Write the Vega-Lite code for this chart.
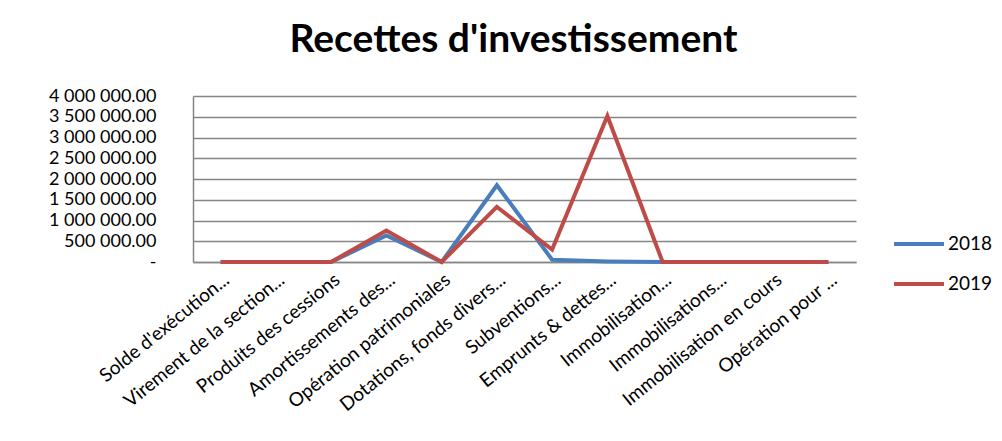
{
  "$schema": "https://vega.github.io/schema/vega-lite/v6.json",
  "width": 663,
  "height": 166,
  "autosize": "none",
  "padding": {"left": 193, "top": 96, "right": 146, "bottom": 179},
  "background": "white",
  "title": {
    "text": "Recettes d'investissement",
    "font": "Lato",
    "fontSize": 39,
    "fontWeight": "bold",
    "color": "#000000",
    "anchor": "middle",
    "offset": 27,
    "dx": -11
  },
  "data": {
    "values": [
      {"cat": "Solde d'exécution...", "year": "2018", "value": 0},
      {"cat": "Virement de la section...", "year": "2018", "value": 0},
      {"cat": "Produits des cessions", "year": "2018", "value": 0},
      {"cat": "Amortissements des...", "year": "2018", "value": 640000},
      {"cat": "Opération patrimoniales", "year": "2018", "value": 0},
      {"cat": "Dotations, fonds divers...", "year": "2018", "value": 1850000},
      {"cat": "Subventions...", "year": "2018", "value": 55000},
      {"cat": "Emprunts & dettes...", "year": "2018", "value": 15000},
      {"cat": "Immobilisation...", "year": "2018", "value": 0},
      {"cat": "Immobilisations...", "year": "2018", "value": 0},
      {"cat": "Immobilisation en cours", "year": "2018", "value": 0},
      {"cat": "Opération pour ...", "year": "2018", "value": 0},
      {"cat": "Solde d'exécution...", "year": "2019", "value": 0},
      {"cat": "Virement de la section...", "year": "2019", "value": 0},
      {"cat": "Produits des cessions", "year": "2019", "value": 0},
      {"cat": "Amortissements des...", "year": "2019", "value": 760000},
      {"cat": "Opération patrimoniales", "year": "2019", "value": 0},
      {"cat": "Dotations, fonds divers...", "year": "2019", "value": 1330000},
      {"cat": "Subventions...", "year": "2019", "value": 300000},
      {"cat": "Emprunts & dettes...", "year": "2019", "value": 3520000},
      {"cat": "Immobilisation...", "year": "2019", "value": 0},
      {"cat": "Immobilisations...", "year": "2019", "value": 0},
      {"cat": "Immobilisation en cours", "year": "2019", "value": 0},
      {"cat": "Opération pour ...", "year": "2019", "value": 0}
    ]
  },
  "mark": {"type": "line", "strokeWidth": 4, "strokeJoin": "miter", "strokeCap": "butt"},
  "encoding": {
    "x": {
      "field": "cat",
      "type": "nominal",
      "sort": null,
      "scale": {"type": "point", "padding": 0.5},
      "axis": {
        "title": null,
        "labelAngle": -39,
        "labelAlign": "right",
        "labelBaseline": "top",
        "labelFont": "Lato",
        "labelFontSize": 19,
        "labelColor": "#000000",
        "labelOverlap": false,
        "labelLimit": 0,
        "labelPadding": 8,
        "ticks": false,
        "grid": false,
        "domainColor": "#868686",
        "domainWidth": 1.5
      }
    },
    "y": {
      "field": "value",
      "type": "quantitative",
      "scale": {"domain": [0, 4000000], "nice": false},
      "axis": {
        "title": null,
        "values": [0, 500000, 1000000, 1500000, 2000000, 2500000, 3000000, 3500000, 4000000],
        "labelExpr": "datum.value == 0 ? '-\u00a0\u00a0\u00a0' : replace(replace(format(datum.value, ',.2f'), ',', ' '), ',', ' ')",
        "labelFont": "Lato",
        "labelFontSize": 18,
        "labelColor": "#000000",
        "labelPadding": 37,
        "ticks": false,
        "grid": true,
        "gridColor": "#868686",
        "gridWidth": 1.5,
        "domainColor": "#868686",
        "domainWidth": 1.5
      }
    },
    "color": {
      "field": "year",
      "type": "nominal",
      "scale": {"domain": ["2018", "2019"], "range": ["#4A7EBB", "#BE4B48"]},
      "legend": {
        "title": null,
        "orient": "none",
        "legendX": 699,
        "legendY": 121,
        "symbolType": "stroke",
        "symbolSize": 2500,
        "symbolStrokeWidth": 4,
        "labelFont": "Lato",
        "labelFontSize": 19,
        "labelColor": "#000000",
        "rowPadding": 3,
        "labelOffset": 2
      }
    }
  },
  "config": {"view": {"stroke": null}}
}
